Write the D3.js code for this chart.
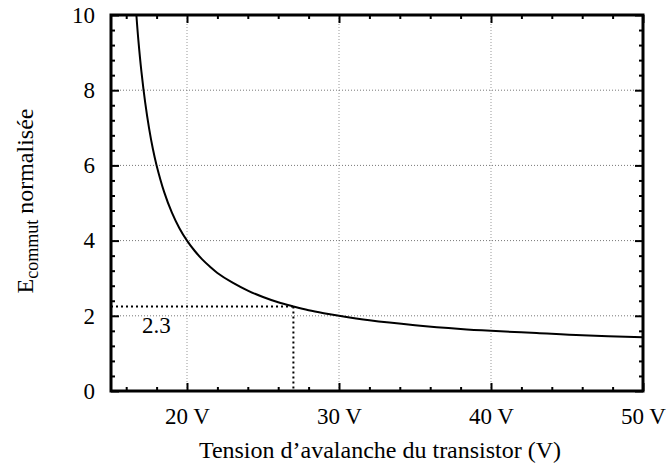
<!DOCTYPE html>
<html><head><meta charset="utf-8">
<script src="https://cdn.jsdelivr.net/npm/d3@7"></script>
<style>body{margin:0;background:#fff}svg{display:block}</style>
</head><body><svg id="c" width="670" height="469"></svg>
<script>
// Data
const voltage = [16.67,16.8,17,17.25,17.5,17.75,18,18.5,19,19.5,20,20.5,21,21.5,22,23,24,25,26,27,28,29,30,32,35,38,40,43,46,50];
const energy  = [10.0,9.33,8.5,7.67,7.0,6.45,6.0,5.29,4.75,4.33,4.0,3.73,3.5,3.31,3.14,2.88,2.67,2.5,2.36,2.25,2.15,2.07,2.0,1.88,1.75,1.65,1.6,1.54,1.48,1.43];
const xTicks = [20,30,40,50];
const xTickLabels = ["20 V","30 V","40 V","50 V"];
const yTicks = [0,2,4,6,8,10];
const markerV = 27, markerE = 2.25, markerLabel = "2.3";

const FONT = '"Liberation Serif","Times New Roman",serif';
const svg = d3.select("#c");
const L=111,R=643,T=15,B=391;
const x = d3.scaleLinear().domain([15,50]).range([L,R]);
const y = d3.scaleLinear().domain([0,10]).range([B,T]);

// grid
const g = svg.append("g");
g.selectAll(".gx").data(xTicks.filter(d=>d<50)).enter().append("line")
 .attr("x1",d=>x(d)).attr("x2",d=>x(d)).attr("y1",B).attr("y2",T)
 .attr("stroke","#999").attr("stroke-width",1).attr("stroke-dasharray","1,2");
g.selectAll(".gy").data(yTicks.filter(d=>d>0&&d<10)).enter().append("line")
 .attr("y1",d=>y(d)).attr("y2",d=>y(d)).attr("x1",L).attr("x2",R)
 .attr("stroke","#777").attr("stroke-width",1).attr("stroke-dasharray","1,2");

// marker dotted lines
svg.append("line").attr("x1",L).attr("x2",x(markerV)).attr("y1",y(markerE)).attr("y2",y(markerE))
 .attr("stroke","#000").attr("stroke-width",2).attr("stroke-dasharray","2,3");
svg.append("line").attr("x1",x(markerV)).attr("x2",x(markerV)).attr("y1",y(markerE)).attr("y2",B)
 .attr("stroke","#000").attr("stroke-width",2).attr("stroke-dasharray","2,3");
svg.append("text").attr("x",x(15)+31).attr("y",y(markerE)+27).style("font-family",FONT).style("font-size","23px").text(markerLabel);

// axes with inward ticks
const minorX = d3.range(16,50,2).filter(d=>d%10!==0);
const minorY = d3.range(0.4,10,0.4).filter(d=>Math.abs(d/2-Math.round(d/2))>0.01);
function axisG(axis,tr){ const a=svg.append("g").attr("transform",tr).call(axis); a.select(".domain").remove(); a.selectAll("line").attr("stroke","#000").attr("stroke-width",2); a.selectAll("text").style("font-family",FONT).style("font-size","23px").attr("fill","#000"); return a;}
axisG(d3.axisBottom(x).tickValues(xTicks).tickSize(-8).tickFormat((d,i)=>xTickLabels[i]).tickPadding(17), `translate(0,${B})`);
axisG(d3.axisBottom(x).tickValues(minorX).tickSize(-4).tickFormat(""), `translate(0,${B})`);
axisG(d3.axisTop(x).tickValues(xTicks).tickSize(-8).tickFormat(""), `translate(0,${T})`);
axisG(d3.axisTop(x).tickValues(minorX).tickSize(-4).tickFormat(""), `translate(0,${T})`);
axisG(d3.axisLeft(y).tickValues(yTicks).tickSize(-8).tickPadding(16), `translate(${L},0)`);
axisG(d3.axisLeft(y).tickValues(minorY).tickSize(-4).tickFormat(""), `translate(${L},0)`);
axisG(d3.axisRight(y).tickValues(yTicks).tickSize(-8).tickFormat(""), `translate(${R},0)`);
axisG(d3.axisRight(y).tickValues(minorY).tickSize(-4).tickFormat(""), `translate(${R},0)`);

// curve
const data = voltage.map((v,i)=>[v,energy[i]]);
svg.append("path").datum(data).attr("fill","none").attr("stroke","#000").attr("stroke-width",2)
 .attr("d",d3.line().x(d=>x(d[0])).y(d=>y(d[1])).curve(d3.curveCatmullRom.alpha(0.5)));

// frame
svg.append("rect").attr("x",L).attr("y",T).attr("width",R-L).attr("height",B-T)
 .attr("fill","none").attr("stroke","#000").attr("stroke-width",3);

// titles
svg.append("text").attr("x",380).attr("y",458).attr("text-anchor","middle").style("font-family",FONT).style("font-size","24px")
 .text("Tension d\u2019avalanche du transistor (V)");
const yt = svg.append("text").attr("transform","translate(33,201) rotate(-90)").attr("text-anchor","middle").style("font-family",FONT).style("font-size","24px");
yt.append("tspan").text("E");
yt.append("tspan").style("font-size","18px").attr("dy",5).text("commut");
yt.append("tspan").attr("dy",-5).text(" normalisée");
</script></body></html>
